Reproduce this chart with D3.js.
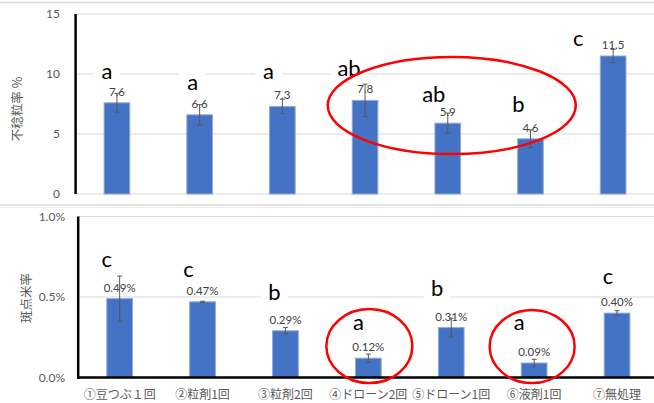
<!DOCTYPE html>
<html>
<head>
<meta charset="utf-8">
<script src="https://cdn.jsdelivr.net/npm/d3@7"></script>
<style>
  html, body { margin: 0; padding: 0; background: #fff; }
  svg { display: block; }
  text { font-family: Lato, "Noto Sans CJK JP", sans-serif; }
  .jp { font-family: "Noto Sans CJK JP", sans-serif; }
</style>
</head>
<body>
<svg id="chart" width="654" height="403"></svg>
<script>
// Treatments (shared by both panels)
const categories = ["①豆つぶ１回", "②粒剤1回", "③粒剤2回", "④ドローン2回", "⑤ドローン1回", "⑥液剤1回", "⑦無処理"];

// Upper panel: sterile grain rate (%)
const sterileValues = [7.6, 6.6, 7.3, 7.8, 5.9, 4.6, 11.5];
const sterileErrors = [0.78, 0.85, 0.6, 1.35, 0.85, 0.75, 0.55];
const sterileLetters = ["a", "a", "a", "ab", "ab", "b", "c"];
const sterileLetterLevel = [10.2, 9.35, 10.2, 10.5, 8.35, 7.5, 13.0];
const sterileLetterShift = [-10, -7, -14, -16, -14, -12, -35];
const sterileTicks = [0, 5, 10, 15];

// Lower panel: pecky rice rate (%)
const peckyValues = [0.49, 0.47, 0.29, 0.12, 0.31, 0.09, 0.40];
const peckyErrors = [0.14, 0.004, 0.02, 0.025, 0.058, 0.023, 0.015];
const peckyLetters = ["c", "c", "b", "a", "b", "a", "c"];
const peckyLetterLevel = [0.736, 0.674, 0.531, 0.345, 0.556, 0.345, 0.630];
const peckyLetterShift = [-13, -14, -11, -10, -14, -15, -9];
const peckyTicks = [0, 0.5, 1.0];

const svg = d3.select("#chart");
const grid = "#d9d9d9", textGray = "#595959", labelGray = "#404040";
const barFill = "#4472c4", barEdge = "#8faadc", red = "#ff0000";

// Panel frames
svg.append("line").attr("x1", 0).attr("x2", 654).attr("y1", 2.5).attr("y2", 2.5)
  .attr("stroke", grid).attr("stroke-width", 1.5);
svg.append("line").attr("x1", 0).attr("x2", 654).attr("y1", 205).attr("y2", 205)
  .attr("stroke", grid).attr("stroke-width", 1.5);
svg.append("line").attr("x1", 0).attr("x2", 654).attr("y1", 207.5).attr("y2", 207.5)
  .attr("stroke", "#ececec").attr("stroke-width", 1);

function panel(opt) {
  const g = svg.append("g");
  const x = d3.scaleBand().domain(categories).range(opt.xRange)
    .paddingInner(0.69).paddingOuter(0.345);
  const y = d3.scaleLinear().domain(opt.yDomain).range(opt.yRange);
  const cx = c => x(c) + x.bandwidth() / 2;

  // gridlines
  g.selectAll(".grid").data(opt.ticks).join("line")
    .attr("x1", opt.xRange[0]).attr("x2", 654)
    .attr("y1", d => y(d)).attr("y2", d => y(d))
    .attr("stroke", grid).attr("stroke-width", 1);

  // tick labels
  g.selectAll(".tick").data(opt.ticks).join("text")
    .attr("x", opt.tickX).attr("y", d => y(d)).attr("dy", "0.35em")
    .attr("text-anchor", "end").attr("font-size", 12).attr("fill", textGray)
    .text(opt.tickFormat);

  // bars
  g.selectAll(".bar").data(opt.values).join("rect")
    .attr("x", (d, i) => x(categories[i])).attr("width", x.bandwidth())
    .attr("y", d => y(d)).attr("height", d => y(0) - y(d))
    .attr("fill", barFill).attr("stroke", barEdge).attr("stroke-width", 1);

  // value labels
  g.selectAll(".val").data(opt.values).join("text")
    .attr("x", (d, i) => cx(categories[i])).attr("y", d => y(d) - opt.labelGap)
    .attr("text-anchor", "middle").attr("font-size", 11.5).attr("fill", labelGray)
    .text(opt.valueFormat);

  // error bars
  const eb = g.selectAll(".err").data(opt.values).join("g").attr("stroke", textGray).attr("stroke-width", 1);
  eb.append("line")
    .attr("x1", (d, i) => cx(categories[i])).attr("x2", (d, i) => cx(categories[i]))
    .attr("y1", (d, i) => y(d + opt.errors[i])).attr("y2", (d, i) => y(d - opt.errors[i]));
  [1, -1].forEach(s => {
    eb.append("line")
      .attr("x1", (d, i) => cx(categories[i]) - 2.5).attr("x2", (d, i) => cx(categories[i]) + 2.5)
      .attr("y1", (d, i) => y(d + s * opt.errors[i])).attr("y2", (d, i) => y(d + s * opt.errors[i]));
  });

  // axes (thick black)
  g.append("line").attr("x1", opt.xRange[0]).attr("x2", opt.xRange[0])
    .attr("y1", y(opt.yDomain[1])).attr("y2", y(0) + (opt.baseline ? 1.5 : 0))
    .attr("stroke", "#000").attr("stroke-width", 2.5);
  if (opt.baseline) {
    g.append("line").attr("x1", opt.xRange[0]).attr("x2", 654)
      .attr("y1", y(0)).attr("y2", y(0)).attr("stroke", "#000").attr("stroke-width", 2.5);
  }

  // axis title
  g.append("text").attr("class", "jp")
    .attr("transform", `translate(${opt.titleX},${opt.titleY}) rotate(-90)`)
    .attr("text-anchor", "middle").attr("dy", "0.35em")
    .attr("font-size", 12.5).attr("fill", textGray).text(opt.title);

  // category labels
  if (opt.showCategories) {
    g.selectAll(".cat").data(categories).join("text").attr("class", "jp")
      .attr("x", d => cx(d)).attr("y", 395).attr("dy", "0.35em")
      .attr("text-anchor", "middle").attr("font-size", 12).attr("fill", textGray)
      .text(d => d);
  }

  // significance letters on white boxes
  const lg = g.selectAll(".letter").data(opt.letters).join("g")
    .attr("transform", (d, i) => `translate(${cx(categories[i]) + opt.letterShift[i]},${y(opt.letterLevel[i])})`);
  lg.append("rect")
    .attr("x", d => -(d.length * 5.5) - 8).attr("width", d => d.length * 11 + 16)
    .attr("y", -14).attr("height", 28).attr("fill", "#fff");
  lg.append("text").attr("text-anchor", "middle").attr("dy", "0.35em")
    .attr("font-size", 22).attr("fill", "#000").text(d => d);

  return { x, y, cx };
}

const upperPanel = panel({
  xRange: [75.6, 654.5], yDomain: [0, 15], yRange: [194, 14],
  ticks: sterileTicks, tickX: 60, tickFormat: d => d,
  values: sterileValues, errors: sterileErrors, valueFormat: d => d.toFixed(1), labelGap: 7,
  letters: sterileLetters, letterLevel: sterileLetterLevel, letterShift: sterileLetterShift,
  title: "不稔粒率 %", titleX: 18, titleY: 109, showCategories: false, baseline: false
});

const lowerPanel = panel({
  xRange: [78.2, 658.5], yDomain: [0, 1.0], yRange: [377.5, 216.5],
  ticks: peckyTicks, tickX: 65, tickFormat: d => d.toFixed(1) + "%",
  values: peckyValues, errors: peckyErrors, valueFormat: d => d.toFixed(2) + "%", labelGap: 7,
  letters: peckyLetters, letterLevel: peckyLetterLevel, letterShift: peckyLetterShift,
  title: "斑点米率", titleX: 27, titleY: 298, showCategories: true, baseline: true
});

// Red highlight outlines
const ring = (cx, cy, rx, ry) => svg.append("ellipse")
  .attr("cx", cx).attr("cy", cy).attr("rx", rx).attr("ry", ry)
  .attr("fill", "none").attr("stroke", red).attr("stroke-width", 2.5);

ring((upperPanel.cx(categories[3]) + upperPanel.cx(categories[5])) / 2 + 4, upperPanel.y(7.37), 124, 48.5);
ring(lowerPanel.cx(categories[3]) + 1, lowerPanel.y(0.195), 43, 37);
ring(lowerPanel.cx(categories[5]) - 2, lowerPanel.y(0.192), 42.5, 36.5);
</script>
</body>
</html>
